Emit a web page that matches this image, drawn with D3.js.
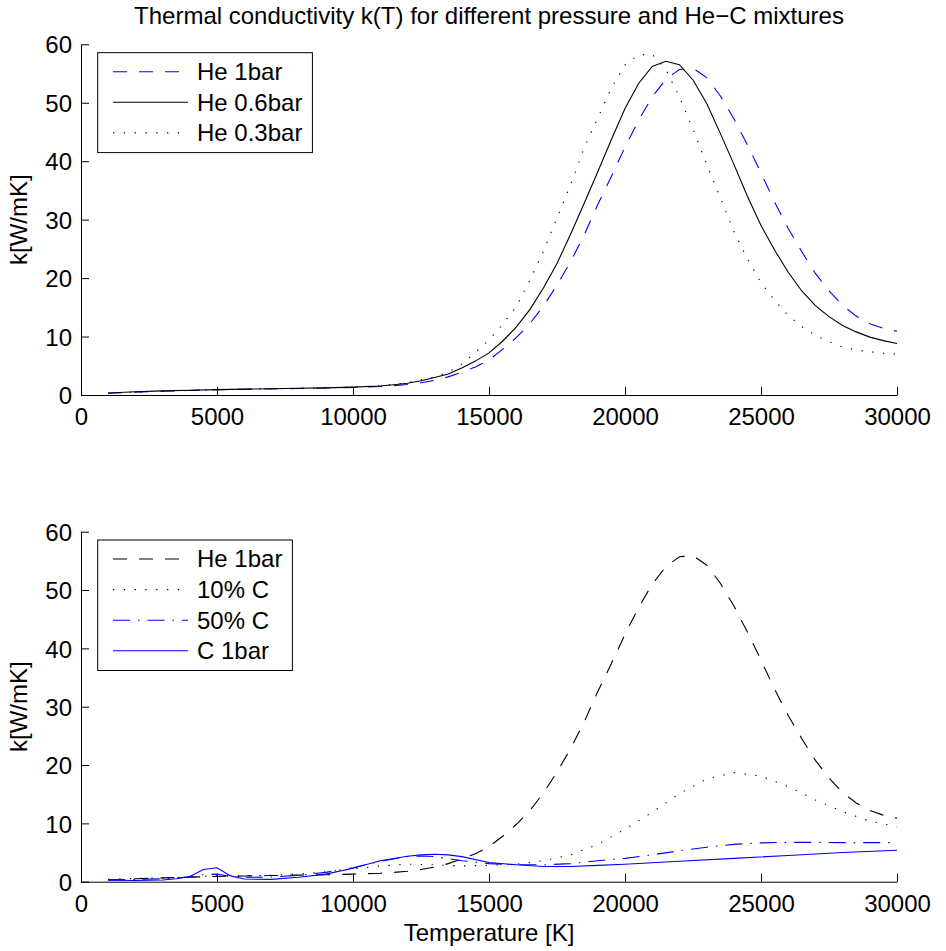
<!DOCTYPE html>
<html><head><meta charset="utf-8">
<script src="https://cdn.jsdelivr.net/npm/d3@7/dist/d3.min.js"></script>
<style>body{margin:0;background:#fff} svg{display:block}</style>
</head><body>
<svg id="chart" width="946" height="951"></svg>
<script>
// ---------- data ----------
const chartTitle = "Thermal conductivity k(T) for different pressure and He\u2212C mixtures";
const xLabel = "Temperature [K]";
const yLabel = "k[W/mK]";
const xTickValues = [0, 5000, 10000, 15000, 20000, 25000, 30000];
const yTickValues = [0, 10, 20, 30, 40, 50, 60];

// temperature grid used by the helium curves
const T_he = [1000,2000,3000,4000,5000,6000,7000,8000,9000,10000,11000,
  11500,12000,12500,13000,13500,14000,14500,15000,15500,16000,
  16500,17000,17500,18000,18500,19000,19500,20000,20500,21000,
  21500,22000,22500,23000,23500,24000,24500,25000,25500,26000,
  26500,27000,27500,28000,28500,29000,29500,30000];

const k_he1bar = [0.3,0.5,0.65,0.78,0.9,0.98,1.05,1.12,1.2,1.3,1.45,
  1.6,1.8,2.1,2.5,3.1,3.9,4.8,6.0,7.8,9.8,
  12.2,15.2,18.8,22.8,27.4,32.6,37.4,42.4,47.0,51.0,
  54.0,55.7,55.9,54.3,51.2,47.3,42.8,38.0,33.0,28.5,
  24.5,20.8,17.8,15.3,13.5,12.2,11.4,10.9];

const k_he06bar = [0.35,0.55,0.7,0.82,0.92,1.0,1.07,1.15,1.22,1.35,1.55,
  1.75,2.0,2.45,3.0,3.6,4.6,5.8,7.2,9.2,11.6,
  14.6,18.3,22.5,27.5,32.8,38.2,43.7,49.0,53.3,56.2,
  57.1,56.5,53.9,49.9,44.8,39.5,34.0,29.0,24.8,21.0,
  17.8,15.3,13.4,11.9,10.8,9.9,9.3,8.8];

const k_he03bar = [0.3,0.5,0.65,0.78,0.9,1.0,1.07,1.15,1.22,1.35,1.6,
  1.85,2.1,2.6,3.1,3.9,5.3,7.3,9.4,12.1,15.1,
  19.6,24.6,30.3,36.0,42.3,47.4,52.5,56.5,58.2,58.3,
  55.7,51.0,45.5,39.5,33.8,28.0,23.3,19.2,16.2,13.6,
  11.7,10.2,9.1,8.2,7.7,7.4,7.15,7.0];

const T_c10 = [1000,2000,3000,4000,5000,6000,7000,8000,9000,10000,
  11000,12000,13000,14000,15000,16000,17000,18000,19000,20000,
  21000,22000,23000,24000,25000,26000,27000,28000,29000,30000];
const k_c10 = [0.4,0.55,0.65,0.8,1.0,1.0,1.1,1.3,1.7,2.2,
  2.7,3.0,2.9,2.7,2.8,3.0,3.6,4.6,6.4,9.0,
  11.9,15.1,17.6,18.7,18.1,16.3,14.0,12.0,10.4,9.4];

const T_c50 = [1000,2000,3000,4000,4500,5000,5500,6000,7000,8000,9000,10000,
  11000,12000,12500,13000,14000,15000,16000,17000,18000,19000,20000,
  21000,22000,23000,24000,25000,26000,27000,28000,29000,30000];
const k_c50 = [0.35,0.4,0.5,0.8,1.2,1.3,0.9,0.75,0.8,1.1,1.6,2.4,
  3.5,4.3,4.4,4.3,3.6,3.1,2.9,2.9,3.1,3.6,4.0,
  4.6,5.3,5.9,6.4,6.65,6.75,6.75,6.7,6.7,6.7];

const T_c1 = [1000,2000,3000,3500,4000,4500,5000,5500,6000,7000,8000,9000,10000,
  11000,12000,12500,13000,13500,14000,15000,16000,17000,18000,19000,20000,
  22000,24000,26000,28000,30000];
const k_c1 = [0.25,0.2,0.3,0.5,0.9,2.1,2.4,1.0,0.45,0.4,0.75,1.3,2.3,
  3.6,4.35,4.6,4.7,4.6,4.3,3.3,2.9,2.6,2.6,2.8,3.0,
  3.5,4.0,4.5,5.0,5.4];

const topNames = ["He 1bar", "He 0.6bar", "He 0.3bar"];
const bottomNames = ["He 1bar", "10% C", "50% C", "C 1bar"];

// ---------- styles ----------
const FONT = "'Liberation Sans', Arial, Helvetica, sans-serif";
const STY = {
  dash:    {dash: "14,12"},
  solid:   {dash: null},
  dot:     {dash: "1.3,9.5"},
  dashdot: {dash: "17,8,1.5,8"}
};

const svg = d3.select("#chart");
svg.append("rect").attr("width", 946).attr("height", 951).attr("fill", "#fff");

const x = d3.scaleLinear().domain([0, 30000]).range([81, 897]);
const yTop = d3.scaleLinear().domain([0, 60]).range([395, 44.3]);
const yBot = d3.scaleLinear().domain([0, 60]).range([881.7, 531.7]);

function drawPanel(y, series, legendTop) {
  const g = svg.append("g");
  // axes
  const ax = g.append("g").attr("transform", `translate(0,${y(0)})`)
    .call(d3.axisBottom(x).tickValues(xTickValues).tickFormat(d3.format("d"))
      .tickSizeInner(-8).tickSizeOuter(0).tickPadding(13));
  const ay = g.append("g").attr("transform", `translate(${x(0)},0)`)
    .call(d3.axisLeft(y).tickValues(yTickValues).tickFormat(d3.format("d"))
      .tickSizeInner(-8).tickSizeOuter(0).tickPadding(9));
  [ax, ay].forEach(a => {
    a.attr("font-size", 24).attr("font-family", FONT).attr("color", "#000");
    a.selectAll("path, line").attr("stroke-width", 1);
  });
  ay.selectAll("text").attr("dy", "0.36em");

  // curves
  const line = d3.line().x(d => x(d[0])).y(d => y(d[1]));
  series.forEach(s => {
    const pts = s.T.map((t, i) => [t, s.k[i]]);
    g.append("path").datum(pts).attr("d", line)
      .attr("fill", "none").attr("stroke", s.color).attr("stroke-width", s.w || 1.1)
      .attr("stroke-dasharray", STY[s.style].dash);
  });

  // legend
  const lg = g.append("g");
  const box = lg.append("rect").attr("fill", "#fff").attr("stroke", "#000").attr("stroke-width", 1);
  const rowH = 30.6, first = 19;
  let maxW = 0;
  series.forEach((s, i) => {
    const yy = legendTop + first + i * rowH;
    lg.append("line").attr("x1", 113).attr("x2", 188).attr("y1", yy).attr("y2", yy)
      .attr("stroke", s.color).attr("stroke-width", s.w || 1.1)
      .attr("stroke-dasharray", STY[s.style].dash);
    const t = lg.append("text").attr("x", 197).attr("y", yy).attr("dy", "0.35em")
      .attr("font-size", 24).attr("font-family", FONT).attr("fill", "#000").text(s.name);
    maxW = Math.max(maxW, t.node().getComputedTextLength());
  });
  const h = first * 2 + (series.length - 1) * rowH + 0.7;
  box.attr("x", 97.7).attr("y", legendTop).attr("width", 197 + maxW + 10 - 97.7).attr("height", h);

  // y label
  g.append("text").attr("transform", `translate(27,${(y(0) + y(60)) / 2}) rotate(-90)`)
    .attr("text-anchor", "middle").attr("font-size", 24).attr("font-family", FONT)
    .attr("fill", "#000").text(yLabel);
}

drawPanel(yTop, [
  {name: topNames[0], T: T_he, k: k_he1bar, color: "#0000ff", style: "dash"},
  {name: topNames[1], T: T_he, k: k_he06bar, color: "#000", style: "solid"},
  {name: topNames[2], T: T_he, k: k_he03bar, color: "#000", style: "dot"}
], 52.7);

drawPanel(yBot, [
  {name: bottomNames[0], T: T_he, k: k_he1bar, color: "#000", style: "dash"},
  {name: bottomNames[1], T: T_c10, k: k_c10, color: "#000", style: "dot"},
  {name: bottomNames[2], T: T_c50, k: k_c50, color: "#0000ff", style: "dashdot"},
  {name: bottomNames[3], T: T_c1, k: k_c1, color: "#0000ff", style: "solid"}
], 540);

// title & x label
svg.append("text").attr("x", (x(0) + x(30000)) / 2).attr("y", 24)
  .attr("text-anchor", "middle").attr("font-size", 24).attr("font-family", FONT)
  .attr("fill", "#000").text(chartTitle);
svg.append("text").attr("x", (x(0) + x(30000)) / 2).attr("y", 941)
  .attr("text-anchor", "middle").attr("font-size", 24).attr("font-family", FONT)
  .attr("fill", "#000").text(xLabel);
</script>
</body></html>
